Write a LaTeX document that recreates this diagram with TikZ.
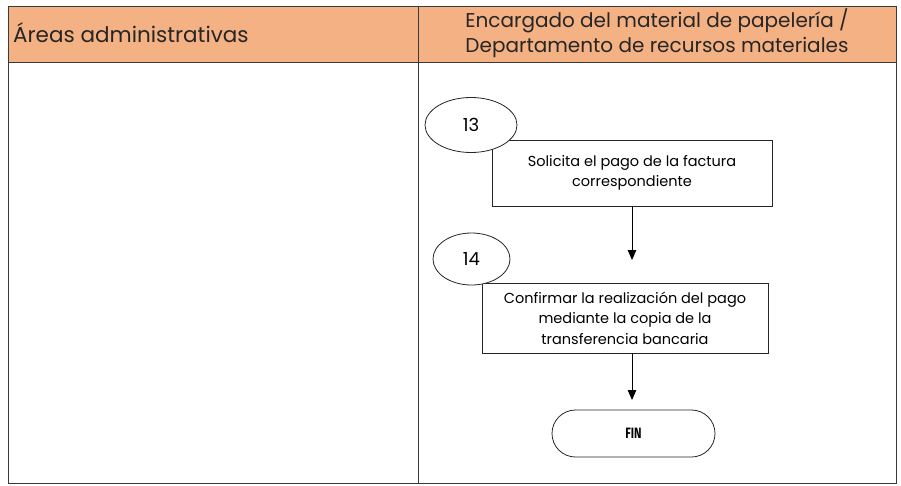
\documentclass[tikz,border=0pt]{standalone}
\usepackage{fontspec}
\setmainfont{Poppins}
\newfontfamily\finfont{Fira Sans}
\usetikzlibrary{arrows.meta,shapes.geometric,shapes.misc}
\definecolor{hdr}{HTML}{F4B183}
\definecolor{lin}{HTML}{3A3A3A}
\tikzset{
  px/.style={x=1pt,y=-1pt},
  tbl/.style={draw=lin,line width=0.9pt},
  stepbox/.style={draw=black!85,line width=0.8pt,rectangle,align=center,font=\fontsize{14.5}{20.5}\selectfont,inner sep=0pt},
  numoval/.style={draw=black!85,line width=0.8pt,ellipse,fill=white,inner sep=0pt,font=\fontsize{18}{20}\selectfont},
  endbox/.style={draw=black!85,line width=0.8pt,rounded rectangle,inner sep=0pt},
  arr/.style={draw=black,line width=0.9pt,-{Triangle[width=8.5pt,length=10pt]}},
  hdrtext/.style={font=\fontsize{20}{25}\selectfont,text=black!85,align=center,inner sep=0pt}
}
\begin{document}
\begin{tikzpicture}[px]
\useasboundingbox (0,0) rectangle (901,485);
% header
\fill[hdr] (8,6) rectangle (896,62);
\draw[tbl] (8,6) rectangle (896,483);
\draw[tbl] (8,62) -- (896,62);
\draw[tbl] (418,6) -- (418,483);
\node[hdrtext,anchor=west,font=\fontsize{21.5}{25}\selectfont] (h1) at (13,33) {Áreas administrativas};
\node[hdrtext] (h2) at (657,33) {Encargado del material de papelería /\\Departamento de recursos materiales};
% step 13
\node[stepbox,minimum width=280pt,minimum height=66pt] (b1) at (632,173) {Solicita el pago de la factura\\correspondiente};
\node[numoval,minimum width=92pt,minimum height=55pt] (o1) at (471,125) {13};
% step 14
\node[stepbox,minimum width=286pt,minimum height=70pt] (b2) at (625,318) {Confirmar la realización del pago\\mediante la copia de la\\transferencia bancaria};
\node[numoval,minimum width=77pt,minimum height=52pt] (o2) at (471.5,259) {14};
% end
\node[endbox,minimum width=163pt,minimum height=47pt] (fin) at (633.5,433.5) {\finfont\bfseries\fontsize{15}{17}\selectfont\scalebox{0.75}[1]{FIN}};
% arrows
\coordinate (a1) at (632,260);
\coordinate (a2) at (632,400);
\draw[arr] (b1.south -| a1) -- (a1);
\draw[arr] (b2.south -| a2) -- (a2);
\end{tikzpicture}
\end{document}
